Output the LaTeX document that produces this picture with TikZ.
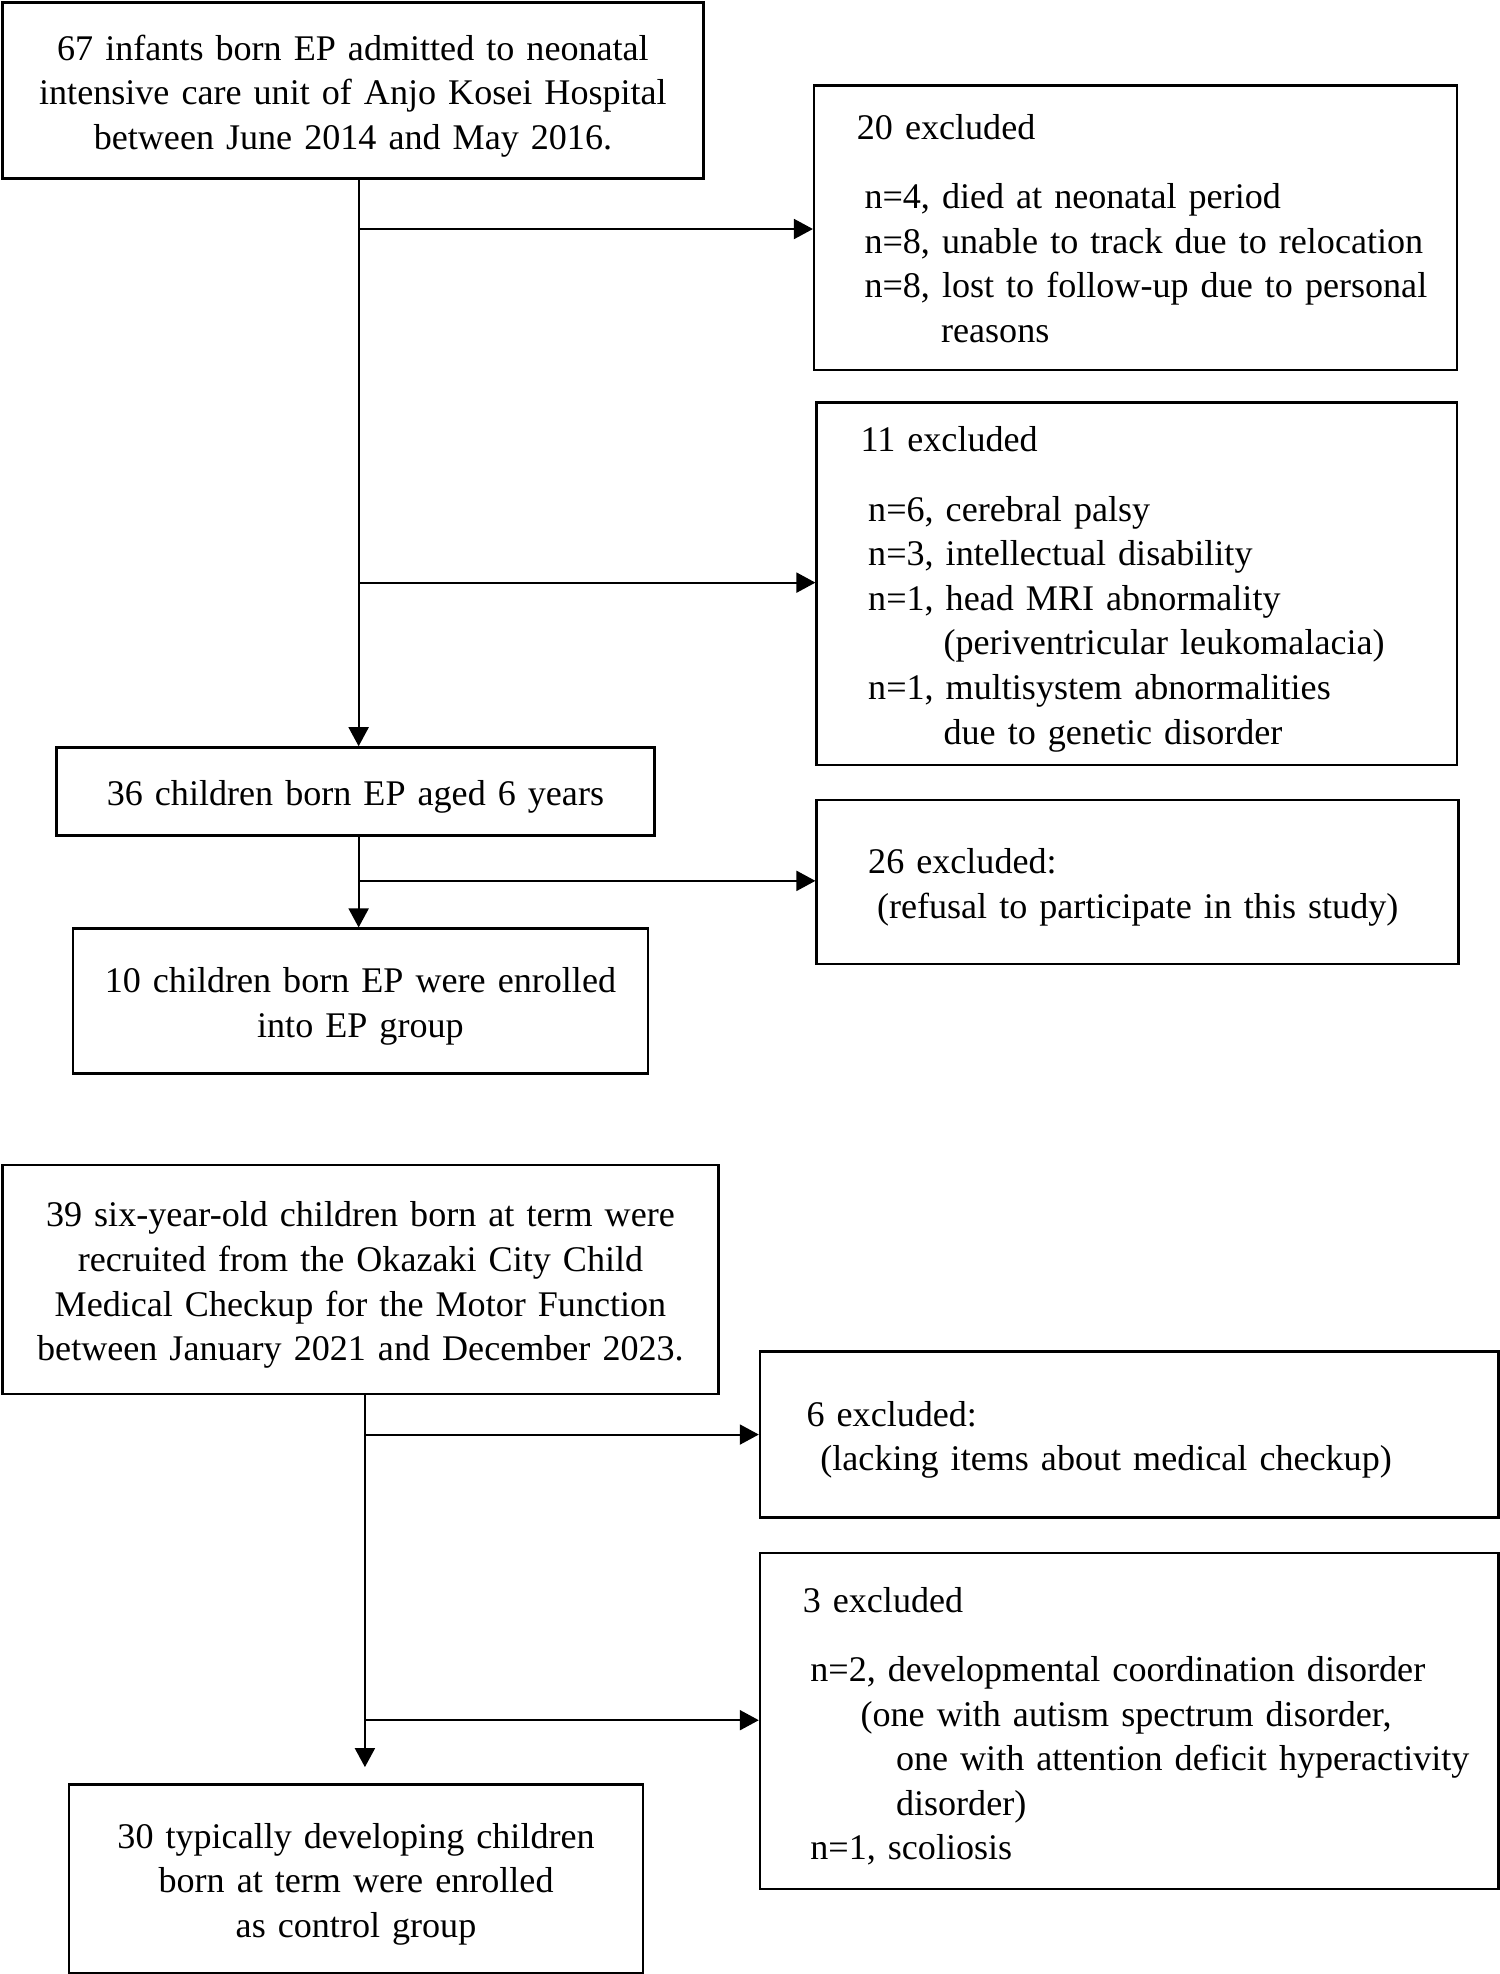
\documentclass[tikz,border=0pt]{standalone}
\usepackage{fontspec}
\setmainfont{Liberation Serif}
\usetikzlibrary{arrows.meta,positioning}
\tikzstyle{arrow} = [line width=1pt,-{Triangle[length=9.5pt,width=10pt]}]
\tikzstyle{box} = [draw=black,line width=1.2pt,anchor=north west,inner sep=0pt,align=center,
    font=\fontsize{18.05}{22.3}\selectfont,execute at begin node={\rule{0pt}{18pt}}]
\tikzstyle{exbox} = [box,align=left]
\newcommand{\ind}[1]{\hspace*{#1}}

\begin{document}
\begin{tikzpicture}[x=0.6292pt,y=-0.6292pt]
    \useasboundingbox (0,0) rectangle (1192,1568.7);
    % extremely preterm cohort
    \node[box,text width=350.5pt,minimum height=88.1pt](inf) at (1,1)
        {67 infants born EP admitted to neonatal\\intensive care unit of Anjo Kosei Hospital\\between June 2014 and May 2016.};
    \node[exbox,text width=321.5pt,minimum height=142.2pt](ex20) at (646,67)
        {\ind{21.4pt}20 excluded\\[12.3pt]
         \ind{25.2pt}n=4, died at neonatal period\\
         \ind{25.2pt}n=8, unable to track due to relocation\\
         \ind{25.2pt}n=8, lost to follow-up due to personal\\
         \ind{63.5pt}reasons\rule[-5pt]{0pt}{5pt}};
    \node[exbox,text width=320.3pt,minimum height=181.2pt](ex11) at (648,319)
        {\ind{22pt}11 excluded\\[12.3pt]
         \ind{25.8pt}n=6, cerebral palsy\\
         \ind{25.8pt}n=3, intellectual disability\\
         \ind{25.8pt}n=1, head MRI abnormality\\
         \ind{63.5pt}(periventricular leukomalacia)\\
         \ind{25.8pt}n=1, multisystem abnormalities\\
         \ind{63.5pt}due to genetic disorder};
    \node[box,text width=298.9pt,minimum height=44pt](age) at (44,593)
        {36 children born EP aged 6 years};
    \node[exbox,text width=320.9pt,minimum height=81.8pt](ex26) at (648,635)
        {\ind{25.8pt}26 excluded:\\
         \ind{30.2pt}(refusal to participate in this study)};
    \node[box,text width=287.5pt,minimum height=72.4pt](enr) at (57,737)
        {10 children born EP were enrolled\\into EP group};

    \coordinate (t1) at (285,182);
    \coordinate (t2) at (285,463);
    \coordinate (t3) at (285,700);
    \draw[arrow] (inf.south -| t1) -- (age.north -| t1);
    \draw[arrow] (t1) -- (t1 -| ex20.west);
    \draw[arrow] (t2) -- (t2 -| ex11.west);
    \draw[arrow] (age.south -| t3) -- (enr.north -| t3);
    \draw[arrow] (t3) -- (t3 -| ex26.west);

    % term-born control cohort
    \node[box,text width=358pt,minimum height=114.5pt](term) at (1,925)
        {39 six-year-old children born at term were\\recruited from the Okazaki City Child\\Medical Checkup for the Motor Function\\between January 2021 and December 2023.};
    \node[exbox,text width=369.3pt,minimum height=83.1pt](ex6) at (603,1073)
        {\ind{23.3pt}6 excluded:\\
         \ind{30.2pt}(lacking items about medical checkup)};
    \node[exbox,text width=369.3pt,minimum height=168pt](ex3) at (603,1233)
        {\ind{21.4pt}3 excluded\\[12.3pt]
         \ind{25.2pt}n=2, developmental coordination disorder\\
         \ind{50.3pt}(one with autism spectrum disorder,\\
         \ind{68pt}one with attention deficit hyperactivity\\
         \ind{68pt}disorder)\\
         \ind{25.2pt}n=1, scoliosis};
    \node[box,text width=286.9pt,minimum height=94.4pt](ctrl) at (54,1417)
        {30 typically developing children\\born at term were enrolled\\as control group};

    \coordinate (u1) at (290,1140);
    \coordinate (u2) at (290,1367);
    \draw[arrow,shorten >=8pt] (term.south -| u1) -- (ctrl.north -| u1);
    \draw[arrow] (u1) -- (u1 -| ex6.west);
    \draw[arrow] (u2) -- (u2 -| ex3.west);
\end{tikzpicture}
\end{document}
